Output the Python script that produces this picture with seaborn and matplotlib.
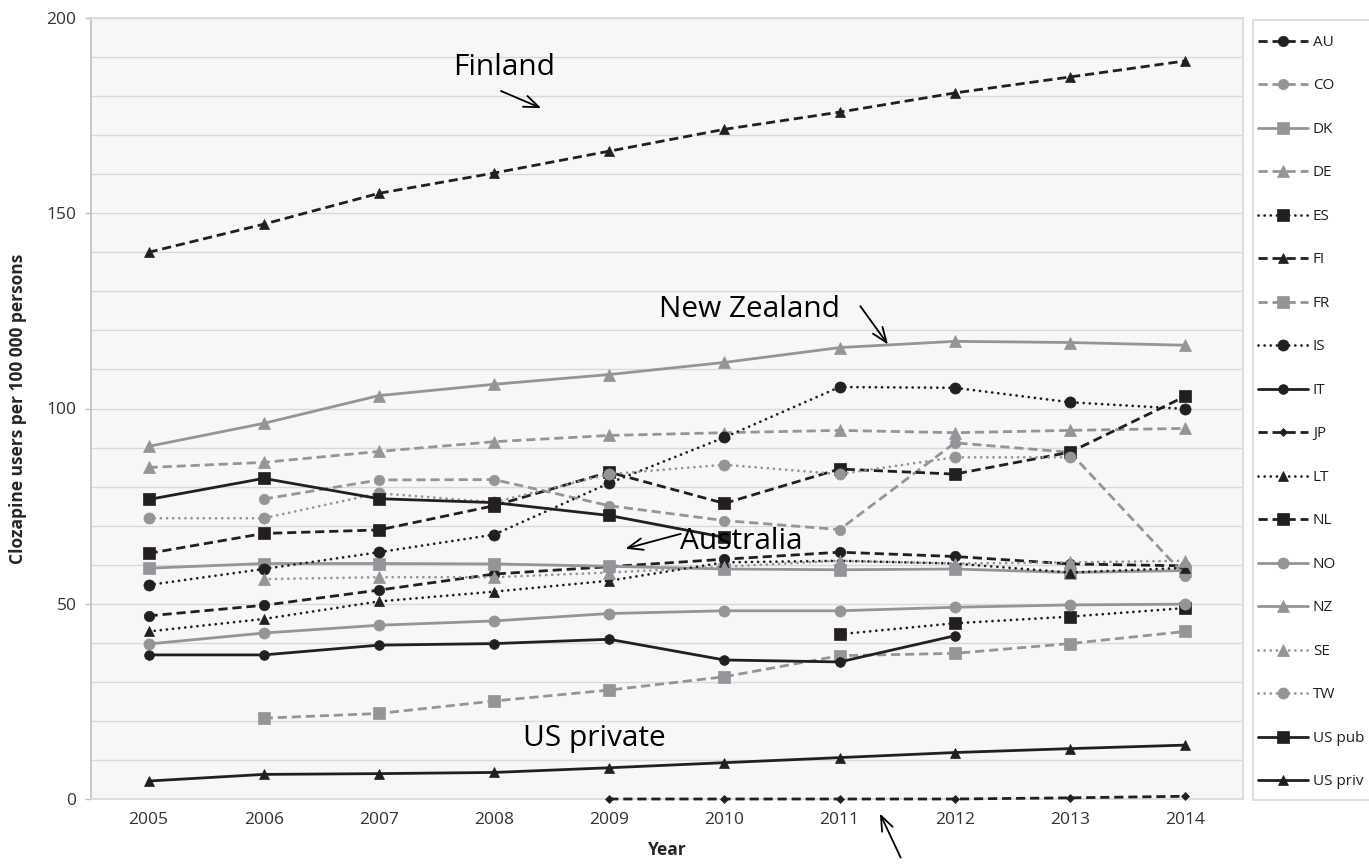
import numpy as np
import pandas as pd
import matplotlib
matplotlib.use("Agg")
import matplotlib.pyplot as plt
from matplotlib.patches import Rectangle
import seaborn as sns

nan = np.nan
years = list(range(2005, 2015))

# Clozapine users per 100 000 persons, by country and year
AU = [46.9, 49.6, 53.5, 57.6, 59.5, 61.4, 63.2, 62.1, 60.2, 59.7]
CO = [nan, 76.8, 81.7, 81.8, 75.1, 71.3, 69.0, 91.2, 88.8, 57.2]
DK = [59.1, 60.3, 60.3, 60.2, 59.6, 58.9, 58.7, 58.9, 58.0, 58.5]
DE = [84.9, 86.2, 89.0, 91.5, 93.1, 93.8, 94.4, 93.8, 94.4, 94.9]
ES = [nan, nan, nan, nan, nan, nan, 42.2, 45.0, 46.7, 48.9]
FI = [140.0, 147.2, 155.1, 160.3, 165.9, 171.5, 175.9, 180.8, 184.9, 189.0]
FR = [nan, 20.7, 21.9, 25.1, 27.9, 31.3, 36.7, 37.3, 39.8, 42.9]
IS = [54.8, 58.9, 63.2, 67.7, 80.9, 92.6, 105.5, 105.3, 101.6, 99.9]
IT = [36.9, 36.9, 39.4, 39.8, 40.9, 35.6, 35.1, 41.8, nan, nan]
JP = [nan, nan, nan, nan, 0.0, 0.0, 0.0, 0.0, 0.3, 0.7]
LT = [42.9, 46.1, 50.6, 53.1, 55.9, 60.6, 61.0, 60.3, 58.0, 59.2]
NL = [62.9, 68.0, 68.9, 75.1, 83.7, 75.7, 84.5, 83.2, 88.8, 103.1]
NO = [39.7, 42.5, 44.5, 45.6, 47.5, 48.2, 48.2, 49.1, 49.7, 49.9]
NZ = [90.3, 96.2, 103.3, 106.2, 108.7, 111.8, 115.6, 117.2, 116.9, 116.2]
SE = [nan, 56.3, 56.8, 56.8, 58.0, 59.5, 61.0, 60.3, 60.6, 61.0]
TW = [71.9, 71.9, 78.3, 76.0, 83.2, 85.6, 83.2, 87.5, 87.5, nan]
US_pub = [76.7, 82.1, 76.9, 75.9, 72.6, 67.0, nan, nan, nan, nan]
US_priv = [4.6, 6.3, 6.5, 6.8, 8.0, 9.3, 10.6, 11.9, 12.9, 13.8]

labels = ["AU", "CO", "DK", "DE", "ES", "FI", "FR", "IS", "IT", "JP",
          "LT", "NL", "NO", "NZ", "SE", "TW", "US pub", "US priv"]
values = [AU, CO, DK, DE, ES, FI, FR, IS, IT, JP,
          LT, NL, NO, NZ, SE, TW, US_pub, US_priv]

BLACK = "#231f20"
GRAY = "#939598"
SOLID = "-"
DASHED = (0, (3.3, 1.75))
DOTTED = (0, (0.01, 2.2))

# colour, line style, marker, marker size
styles = {
    "AU": (BLACK, DASHED, "o", 7.5),
    "CO": (GRAY, DASHED, "o", 7.5),
    "DK": (GRAY, SOLID, "s", 8.0),
    "DE": (GRAY, DASHED, "^", 8.0),
    "ES": (BLACK, DOTTED, "s", 8.5),
    "FI": (BLACK, DASHED, "^", 7.0),
    "FR": (GRAY, DASHED, "s", 8.0),
    "IS": (BLACK, DOTTED, "o", 8.0),
    "IT": (BLACK, SOLID, "o", 7.0),
    "JP": (BLACK, DASHED, "D", 4.5),
    "LT": (BLACK, DOTTED, "^", 7.5),
    "NL": (BLACK, DASHED, "s", 8.5),
    "NO": (GRAY, SOLID, "o", 8.0),
    "NZ": (GRAY, SOLID, "^", 8.0),
    "SE": (GRAY, DOTTED, "^", 8.0),
    "TW": (GRAY, DOTTED, "o", 8.0),
    "US pub": (BLACK, SOLID, "s", 8.5),
    "US priv": (BLACK, SOLID, "^", 7.0),
}

sns.set_theme(style="white")
plt.rcParams["font.family"] = ["Open Sans", "DejaVu Sans"]

fig = plt.figure(figsize=(13.69, 8.65), dpi=100)
ax = fig.add_axes([91 / 1369, 66 / 865, (1242.7 - 91) / 1369, (799 - 18) / 865])
ax.set_facecolor("#f7f7f7")

for name, vals in zip(labels, values):
    color, ls, marker, ms = styles[name]
    df = pd.DataFrame({"Year": years, "value": vals}).dropna()
    sns.lineplot(data=df, x="Year", y="value", ax=ax, color=color,
                 linestyle=ls, linewidth=2.0, marker=marker, markersize=ms,
                 markeredgecolor=color, markeredgewidth=0.5,
                 dash_capstyle="round" if ls is DOTTED else "butt",
                 errorbar=None, label=name, clip_on=False, zorder=3)

# axes, ticks and grid
ax.set_xlim(2004.5, 2014.5)
ax.set_ylim(0, 200)
ax.set_xticks(years)
ax.set_xticklabels([str(y) for y in years])
ax.set_yticks(range(0, 201, 50))
ax.set_yticks(range(0, 201, 10), minor=True)
ax.grid(True, axis="y", which="both", color="#d9d9d9", linewidth=1.0, zorder=0)
ax.grid(False, axis="x")
ax.tick_params(axis="x", length=0, pad=9, labelsize=12.5, labelcolor="#333333")
ax.tick_params(axis="y", which="major", left=True, length=4.5, width=1.0,
               color="#c0c0c0", pad=6, labelsize=12.5, labelcolor="#333333")
ax.tick_params(axis="y", which="minor", length=0)
for side in ["top", "right", "bottom"]:
    ax.spines[side].set_color("#d9d9d9")
    ax.spines[side].set_linewidth(1.2)
ax.spines["left"].set_color("#c0c0c0")
ax.spines["left"].set_linewidth(1.2)

label_font = dict(family=["Liberation Sans Narrow", "Open Sans", "DejaVu Sans"],
                  fontweight="bold", fontsize=12.5, color="#262626")
ax.set_xlabel("Year", **label_font)
ax.set_ylabel("Clozapine users per 100 000 persons", **label_font)
ax.xaxis.set_label_coords((667 - 91) / (1242.7 - 91), -(841 - 799) / (799 - 18))
ax.yaxis.set_label_coords(-(91 - 27) / (1242.7 - 91), 0.5)

# annotations
ann = dict(fontsize=21.5, color="black", ha="center", va="center")
arrow = dict(arrowstyle="->,head_length=0.9,head_width=0.35", color="black",
             lw=1.3, shrinkA=0, shrinkB=0)
ax.text(2008.09, 187.2, "Finland", **ann)
ax.annotate("", xy=(2008.41, 176.9), xytext=(2008.06, 181.3), arrowprops=arrow)
ax.text(2010.22, 125.4, "New Zealand", **ann)
ax.annotate("", xy=(2011.42, 116.4), xytext=(2011.18, 126.2), arrowprops=arrow)
ax.text(2010.15, 66.0, "Australia", zorder=5, **ann)
ax.annotate("", xy=(2009.14, 64.1), xytext=(2009.62, 67.9), arrowprops=arrow)
ax.text(2008.87, 15.4, "US private", **ann)
ax.annotate("", xy=(2011.35, -3.7), xytext=(2011.53, -15.0), arrowprops=arrow,
            annotation_clip=False)

# legend with its own frame, drawn beneath the legend entries
fig.patches.append(Rectangle((1253 / 1369, 65 / 865), 120 / 1369, 780 / 865,
                             transform=fig.transFigure, facecolor="white",
                             edgecolor="#d9d9d9", linewidth=1.2, zorder=-5))
handles, hl = ax.get_legend_handles_labels()
leg = ax.legend(handles, hl, loc="upper left",
                bbox_to_anchor=(1258 / 1369, (865 - 35) / 865),
                bbox_transform=fig.transFigure, frameon=False, fontsize=11,
                handlelength=3.3, handletextpad=0.3, labelspacing=1.865,
                borderpad=0, borderaxespad=0, numpoints=1)
for t in leg.get_texts():
    t.set_color("#1f1f1f")

fig.savefig("out.png", dpi=100)
